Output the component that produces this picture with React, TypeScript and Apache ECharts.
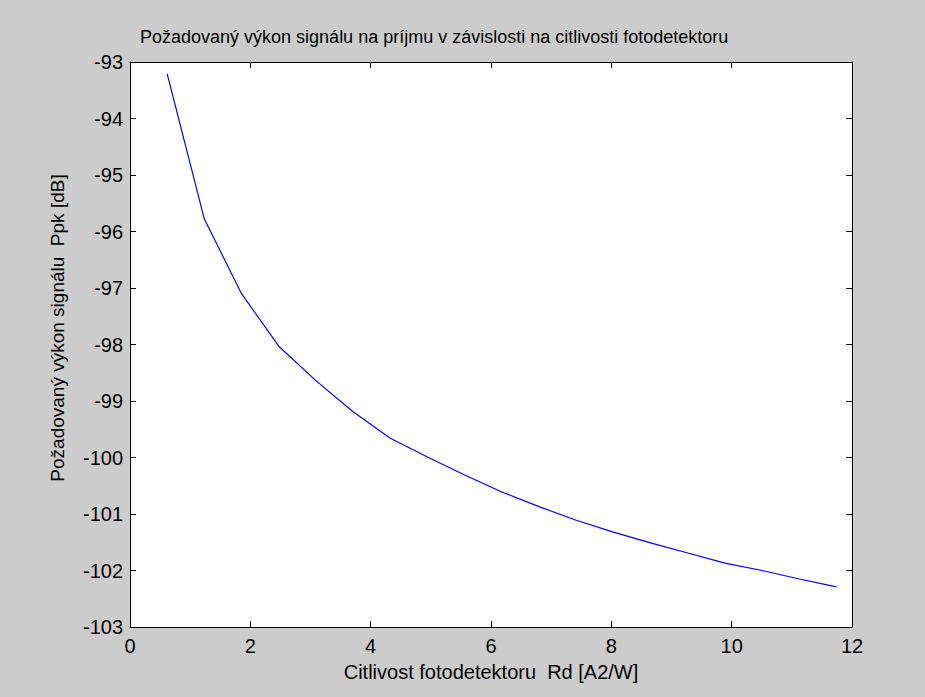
import React, { useEffect, useRef } from "react";
import * as echarts from "echarts";

const titleText = "Požadovaný výkon signálu na príjmu v závislosti na citlivosti fotodetektoru";
const xName = "Citlivost fotodetektoru  Rd [A2/W]";
const yName = "Požadovaný výkon signálu  Ppk [dB]";

// Rd [A2/W]
const rd = [0.618, 1.236, 1.854, 2.472, 3.09, 3.708, 4.326, 4.944, 5.562, 6.18, 6.798, 7.416, 8.034, 8.652, 9.27, 9.888, 10.506, 11.124, 11.742];
// Ppk [dB]
const ppk = [-93.21, -95.78, -97.1, -98.03, -98.64, -99.19, -99.66, -99.99, -100.31, -100.61, -100.87, -101.11, -101.32, -101.51, -101.69, -101.87, -102.0, -102.15, -102.29];

const xMin = 0, xMax = 12, xStep = 2;
const yMin = -103, yMax = -93, yStep = 1;

const FONT = "'Liberation Sans', Arial, Helvetica, sans-serif";

export default function App() {
  const ref = useRef<HTMLDivElement>(null);
  useEffect(() => {
    if (!ref.current) return;
    const chart = echarts.init(ref.current, null, { renderer: "svg" });
    const axisLine = { show: true, onZero: false, lineStyle: { color: "#000", width: 1 } };
    const tick = { show: true, inside: true, length: 6, lineStyle: { color: "#000", width: 1 } };
    const lbl = { color: "#000", fontSize: 20, fontFamily: FONT };
    chart.setOption({
      animation: false,
      backgroundColor: "#cccccc",
      textStyle: { fontFamily: FONT },
      title: {
        text: titleText,
        left: 140,
        top: 28,
        padding: 0,
        textStyle: { color: "#000", fontSize: 18, fontWeight: "normal", fontFamily: FONT },
      },
      graphic: [
        {
          type: "text",
          x: 57,
          y: 328,
          rotation: Math.PI / 2,
          silent: true,
          style: {
            text: yName,
            fill: "#000",
            fontSize: 19,
            fontFamily: FONT,
            textAlign: "center",
            textVerticalAlign: "middle",
          },
        },
      ],
      grid: {
        left: 130,
        top: 62,
        width: 722,
        height: 565,
        show: true,
        backgroundColor: "#ffffff",
        borderWidth: 0,
      },
      xAxis: [
        {
          type: "value",
          position: "bottom",
          min: xMin,
          max: xMax,
          interval: xStep,
          axisLine,
          axisTick: tick,
          splitLine: { show: false },
          axisLabel: { ...lbl, margin: 9 },
          name: xName,
          nameLocation: "middle",
          nameGap: 35,
          nameTextStyle: { ...lbl },
        },
        {
          type: "value",
          position: "top",
          min: xMin,
          max: xMax,
          interval: xStep,
          axisLine,
          axisTick: tick,
          splitLine: { show: false },
          axisLabel: { show: false },
        },
      ],
      yAxis: [
        {
          type: "value",
          position: "left",
          min: yMin,
          max: yMax,
          interval: yStep,
          axisLine,
          axisTick: tick,
          splitLine: { show: false },
          axisLabel: { ...lbl, margin: 7 },
        },
        {
          type: "value",
          position: "right",
          min: yMin,
          max: yMax,
          interval: yStep,
          axisLine,
          axisTick: tick,
          splitLine: { show: false },
          axisLabel: { show: false },
        },
      ],
      series: [
        {
          type: "line",
          xAxisIndex: 0,
          yAxisIndex: 0,
          data: rd.map((x, i) => [x, ppk[i]]),
          showSymbol: false,
          symbol: "none",
          lineStyle: { color: "#0000ff", width: 1.2 },
          silent: true,
        },
      ],
    });
    return () => chart.dispose();
  }, []);
  return <div ref={ref} style={{ position: "fixed", left: 0, top: 0, width: 925, height: 697 }} />;
}
